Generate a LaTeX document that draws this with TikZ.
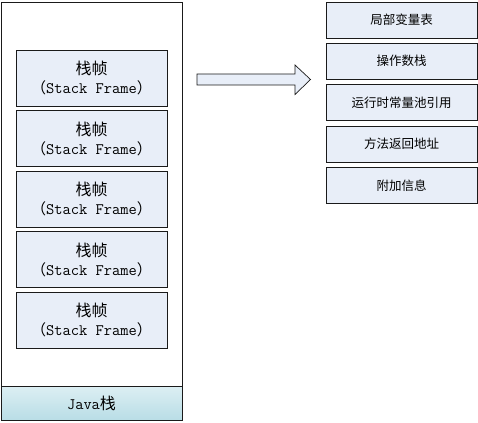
\documentclass[tikz,border=0pt]{standalone}
\usepackage{fontspec}
\newfontfamily\cjk{Noto Sans CJK SC}
\definecolor{framefill}{HTML}{E8EEF8}
\definecolor{bandtop}{HTML}{DCEFF3}
\definecolor{bandbot}{HTML}{B9DDE6}
\definecolor{edge}{HTML}{1A1A1A}
\begin{document}
\begin{tikzpicture}[x=1pt,y=-1pt,
  framebox/.style={draw=edge,line width=0.8pt,fill=framefill,minimum width=151pt,minimum height=56pt,inner sep=0pt,align=center,font=\fontsize{16}{19}\selectfont},
  itembox/.style={draw=edge,line width=0.8pt,fill=framefill,minimum width=151pt,minimum height=36pt,inner sep=0pt,font=\cjk\fontsize{12.5}{14}\selectfont}]
\useasboundingbox (0,0) rectangle (478,422);
\node[draw=edge,line width=0.8pt,fill=white,minimum width=181pt,minimum height=418pt,inner sep=0pt] (stack) at (91.5,211) {};
\node[draw=edge,line width=0.8pt,top color=bandtop,bottom color=bandbot,minimum width=181pt,minimum height=34pt,inner sep=0pt,font=\fontsize{16}{18}\selectfont] (band) at (91.5,403) {\ttfamily Java\cjk 栈};
\foreach \i/\y in {1/78,2/138.5,3/199,4/259.5,5/320}{
  \node[framebox] (f\i) at (91.5,\y) {{\cjk\fontsize{16}{19}\selectfont 栈帧}\\{\cjk\fontsize{15}{19}\selectfont （}{\ttfamily Stack Frame}{\cjk\fontsize{15}{19}\selectfont ）}};
}
\node[itembox] (r1) at (401.5,20) {局部变量表};
\node[itembox] (r2) at (401.5,61) {操作数栈};
\node[itembox] (r3) at (401.5,102.5) {运行时常量池引用};
\node[itembox] (r4) at (401.5,144) {方法返回地址};
\node[itembox] (r5) at (401.5,185.5) {附加信息};
\draw[edge,line width=0.7pt,fill=framefill]
  (197,74) -- (295,74) -- (295,65) -- (310.5,79.5) -- (295,94.5) -- (295,85) -- (197,85) -- cycle;
\end{tikzpicture}
\end{document}
